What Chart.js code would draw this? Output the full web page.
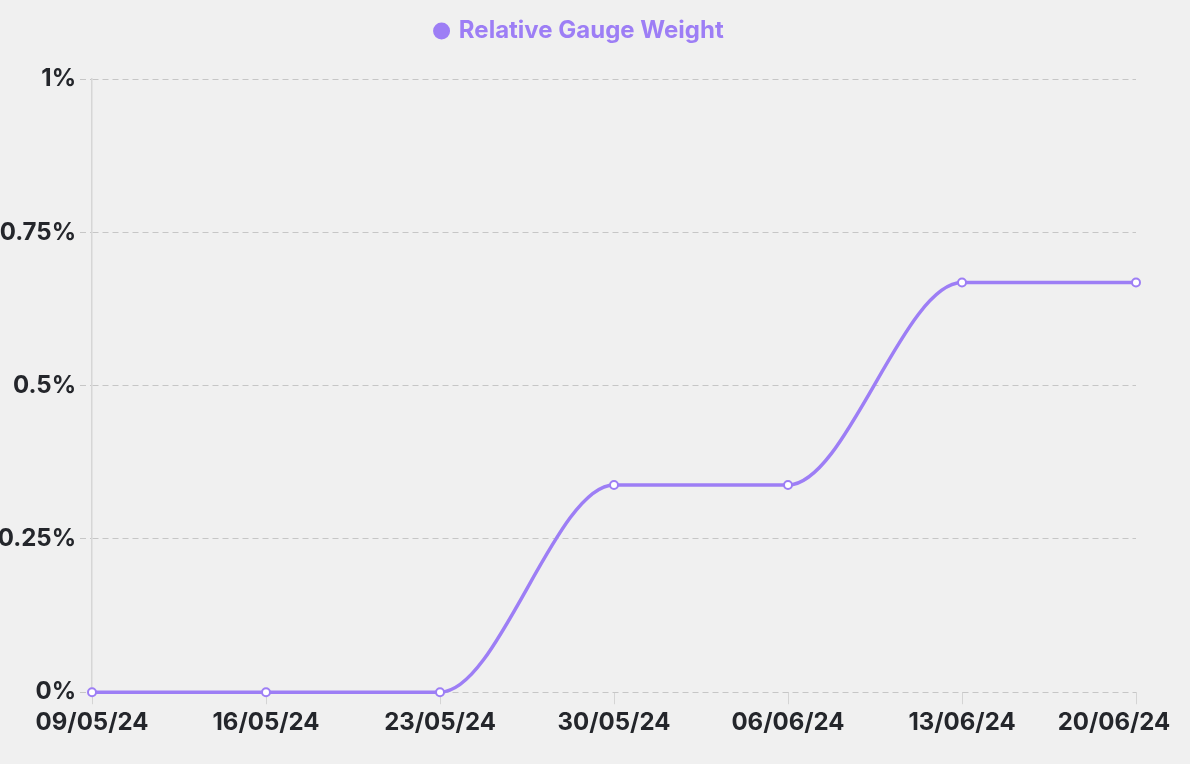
<!DOCTYPE html>
<html>
<head>
<meta charset="utf-8">
<script src="https://cdn.jsdelivr.net/npm/chart.js@4.4.1/dist/chart.umd.min.js"></script>
<style>
  html, body { margin: 0; padding: 0; background: #f0f0f0; }
  #wrap { width: 1190px; height: 764px; position: relative; }
</style>
</head>
<body>
<div id="wrap"><canvas id="gaugeChart"></canvas></div>
<script>
const dates = ['09/05/24', '16/05/24', '23/05/24', '30/05/24', '06/06/24', '13/06/24', '20/06/24'];
const weights = [0, 0, 0, 0.338, 0.338, 0.668, 0.668];
const yTicks = [0, 0.25, 0.5, 0.75, 1];

const purple = '#9d7ef5';
const ink = '#24262b';

const layoutTweaks = {
    id: 'layoutTweaks',
    beforeLayout(chart) {
        // extra gap under the legend
        const lg = chart.legend;
        if (lg && !lg._padded) {
            const fit = lg.fit;
            lg.fit = function () { fit.call(this); this.height += 26; };
            lg._padded = true;
        }
    },
    afterLayout(chart) {
        // centre the legend on the whole canvas, not the padded area
        const lg = chart.legend;
        if (lg) { lg.left += 12; lg.right += 12; }
    },
    beforeDraw(chart) {
        // nudge the last date label inwards like the original
        const sc = chart.scales.x;
        const items = sc.getLabelItems();
        if (items && items !== sc._shifted && items.length) {
            items[items.length - 1].options.translation[0] -= 22;
            sc._shifted = items;
        }
    }
};

new Chart(document.getElementById('gaugeChart'), {
    type: 'line',
    data: {
        labels: dates,
        datasets: [{
            label: 'Relative Gauge Weight',
            data: weights,
            borderColor: purple,
            backgroundColor: purple,
            borderWidth: 3.5,
            cubicInterpolationMode: 'monotone',
            pointRadius: 4,
            pointBorderWidth: 2,
            pointBackgroundColor: '#ffffff',
            pointBorderColor: purple,
            clip: false,
            fill: false
        }]
    },
    options: {
        responsive: true,
        maintainAspectRatio: false,
        animation: false,
        layout: { padding: { top: 5, right: 54, bottom: 23, left: 0 } },
        plugins: {
            tooltip: { enabled: false },
            legend: {
                position: 'top',
                labels: {
                    color: purple,
                    font: { family: 'Inter', size: 24, weight: 'bold' },
                    usePointStyle: true,
                    pointStyle: 'circle',
                    boxWidth: 10.6,
                    boxHeight: 10.6,
                    padding: 14,
                    generateLabels(chart) {
                        const items = Chart.defaults.plugins.legend.labels.generateLabels(chart);
                        items.forEach(it => { it.fillStyle = purple; it.strokeStyle = purple; it.fontColor = purple; });
                        return items;
                    }
                }
            }
        },
        scales: {
            x: {
                grid: {
                    drawOnChartArea: false,
                    drawTicks: true,
                    tickLength: 12,
                    color: '#d4d4d4'
                },
                border: { display: false },
                ticks: {
                    color: ink,
                    font: { family: 'Inter', size: 24, weight: 'bold' },
                    padding: 4,
                    maxRotation: 0,
                    autoSkip: false
                },
                afterFit(scale) {
                    scale.paddingRight = 0;
                    scale.paddingLeft = 0;
                }
            },
            y: {
                min: 0,
                max: 1,
                afterBuildTicks(scale) {
                    scale.ticks = yTicks.map(v => ({ value: v }));
                },
                grid: {
                    color: '#c6c6c6',
                    tickLength: 12,
                    tickBorderDash: [6, 4]
                },
                border: { display: true, color: '#d6d6d6', width: 1.5, dash: [6, 4] },
                ticks: {
                    color: ink,
                    font: { family: 'Inter', size: 24, weight: 'bold' },
                    padding: 4,
                    callback: v => v + '%'
                },
                afterFit(scale) {
                    scale.width = 92;
                }
            }
        }
    },
    plugins: [layoutTweaks]
});
</script>
</body>
</html>
